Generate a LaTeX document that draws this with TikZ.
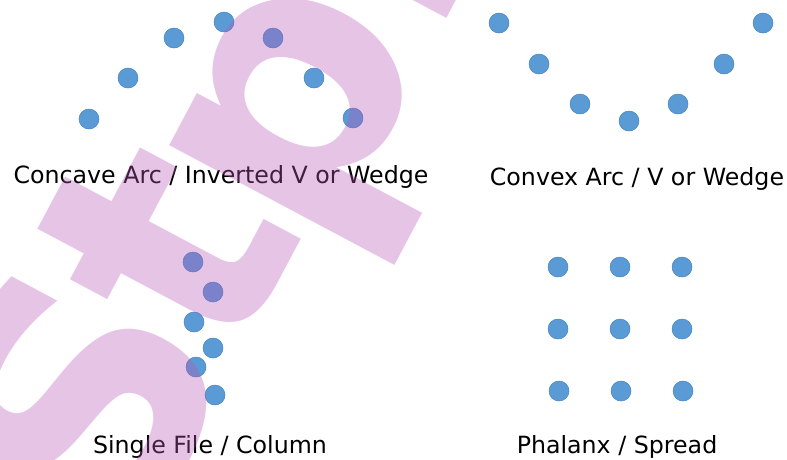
\documentclass[tikz,border=0pt]{standalone}
\usepackage{fontspec}
\setmainfont{DejaVu Sans}
\definecolor{dotblue}{RGB}{91,155,213}
\definecolor{dotedge}{RGB}{70,130,192}
\definecolor{stamp}{RGB}{181,86,184}

\begin{document}
\begin{tikzpicture}[x=1pt, y=-1pt,
		man/.style={circle, fill=dotblue, draw=dotedge, line width=.5pt, minimum size=20pt, inner sep=0pt},
		caption/.style={anchor=base, inner sep=0pt, font=\fontsize{23.7}{28}\selectfont}]
		\useasboundingbox (0,0) rectangle (787,459);

		% concave arc
		\node[man] (c1) at (89,119) {};
		\node[man] (c2) at (128,78) {};
		\node[man] (c3) at (174,38) {};
		\node[man] (c4) at (224,22) {};
		\node[man] (c5) at (273,38) {};
		\node[man] (c6) at (314,78) {};
		\node[man] (c7) at (353,118) {};
		\node[caption] (cap-c) at (221,183) {Concave Arc / Inverted V or Wedge};

		% convex arc
		\node[man] (v1) at (499,23) {};
		\node[man] (v2) at (539,64) {};
		\node[man] (v3) at (580,104) {};
		\node[man] (v4) at (629,121) {};
		\node[man] (v5) at (678,104) {};
		\node[man] (v6) at (724,64) {};
		\node[man] (v7) at (763,23) {};
		\node[caption] (cap-v) at (637,185) {Convex Arc / V or Wedge};

		% single file
		\node[man] (f1) at (193,262) {};
		\node[man] (f2) at (213,292) {};
		\node[man] (f3) at (194,322) {};
		\node[man] (f4) at (213,348) {};
		\node[man] (f5) at (196,367) {};
		\node[man] (f6) at (215,395) {};
		\node[caption] (cap-f) at (210,453) {Single File / Column};

		% phalanx
		\node[man] (p11) at (558,267) {};
		\node[man] (p12) at (620,267) {};
		\node[man] (p13) at (682,267) {};
		\node[man] (p21) at (558,329) {};
		\node[man] (p22) at (620,329) {};
		\node[man] (p23) at (682,329) {};
		\node[man] (p31) at (559,391) {};
		\node[man] (p32) at (621,391) {};
		\node[man] (p33) at (683,391) {};
		\node[caption] (cap-p) at (617,453) {Phalanx / Spread};

		% stamp on top
		\node[rotate=62, anchor=base west, inner sep=0pt, text=stamp, opacity=.35,
			font=\fontsize{338}{338}\selectfont\bfseries] (mark) at (149,579)
			{\raisebox{25pt}{S\kern-21pt t}\kern-20pt ph};
	\end{tikzpicture}
\end{document}
